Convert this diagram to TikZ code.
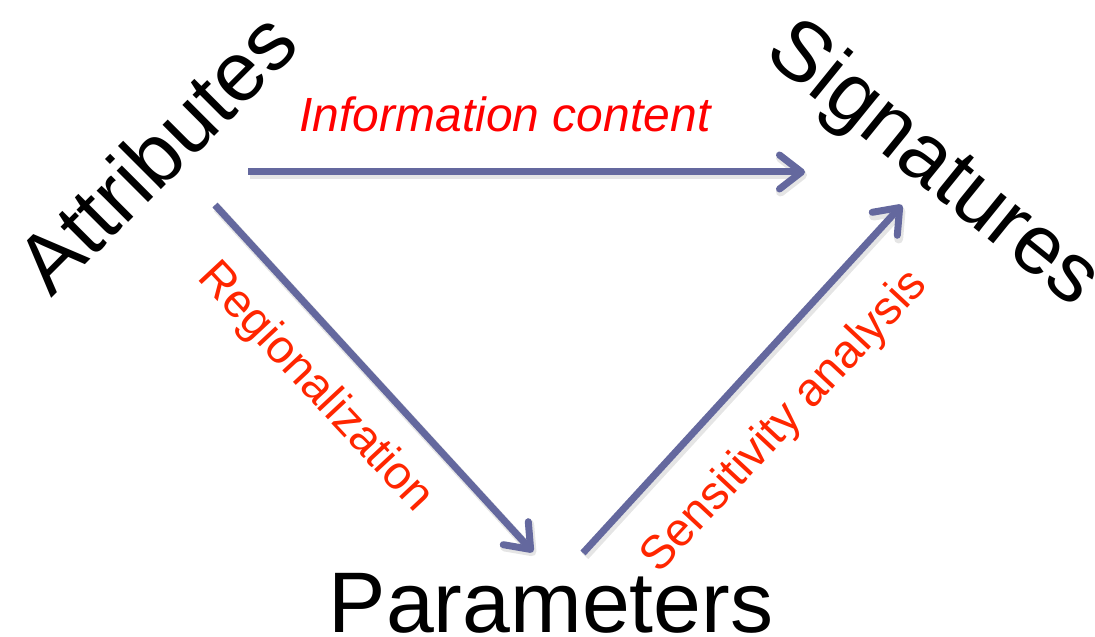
\documentclass[tikz,border=0pt]{standalone}
\usepackage{fontspec}
\setmainfont{Liberation Sans}
\usetikzlibrary{arrows.meta}
\definecolor{flow}{RGB}{100,104,158}
\definecolor{linkred}{RGB}{255,0,0}
\definecolor{labelred}{RGB}{255,38,0}
\tikzset{
  term/.style={font=\fontsize{84}{94}\selectfont, text=black, inner sep=0pt},
  relabel/.style={font=\fontsize{47}{54}\selectfont, text=labelred, inner sep=0pt},
  tip/.style={-{Straight Barb[length=22pt,width=34pt,round]}},
  flowarrow/.style={tip, draw=flow, line width=7pt},
  flowshadow/.style={tip, draw=black, line width=9pt, opacity=0.10}
}
\begin{document}
\begin{tikzpicture}[x=1pt,y=1pt]
  \useasboundingbox (0,0) rectangle (1095,637);

  % the three terms
  \node[term, rotate=45]  (attr) at (156,485) {Attributes};
  \node[term, rotate=-39] (sig)  at (932,471) {Signatures};
  \node[term, font=\fontsize{86}{96}\selectfont, anchor=base] (par) at (551,4) {Parameters};

  % arrow end points
  \coordinate (a1) at (248,465);
  \coordinate (s1) at (805,465);
  \coordinate (a2) at (215,432);
  \coordinate (p1) at (533,85);
  \coordinate (p2) at (583,84);
  \coordinate (s2) at (902,432);

  % soft drop shadows under the arrows
  \begin{scope}[transform canvas={shift={(2pt,-3pt)}}]
    \draw[flowshadow] (a1) -- (s1);
    \draw[flowshadow] (a2) -- (p1);
    \draw[flowshadow] (p2) -- (s2);
  \end{scope}

  % arrows
  \draw[flowarrow] (a1) -- (s1);
  \draw[flowarrow] (a2) -- (p1);
  \draw[flowarrow] (p2) -- (s2);

  % arrow labels
  \node[font=\fontsize{48}{55}\selectfont\itshape, text=linkred, inner sep=0pt, anchor=base]
    (info) at (505,505) {Information content};
  \node[relabel, rotate=-47] (reg) at (315,249) {Regionalization};
  \node[relabel, rotate=47]  (sens) at (785,215) {Sensitivity analysis};
\end{tikzpicture}
\end{document}
